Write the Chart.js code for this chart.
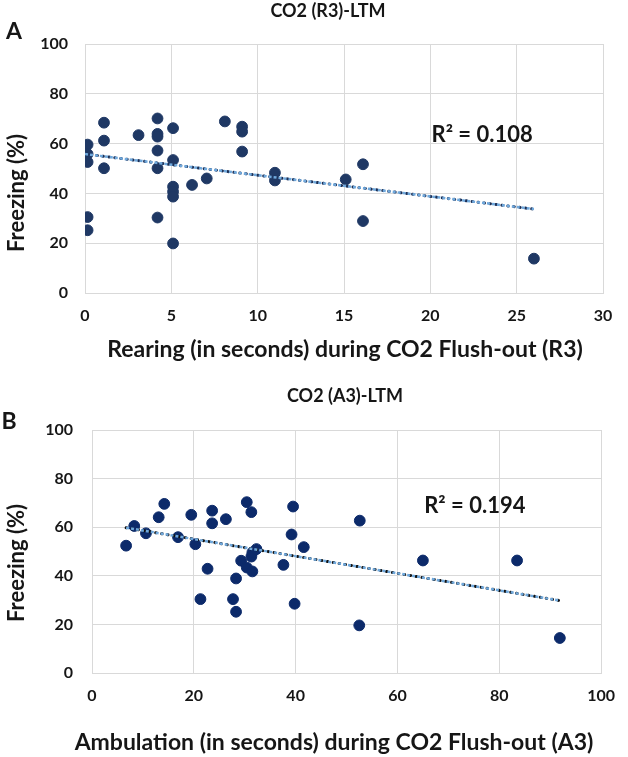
<!DOCTYPE html>
<html>
<head>
<meta charset="utf-8">
<script src="https://cdn.jsdelivr.net/npm/chart.js@4.4.0/dist/chart.umd.min.js"></script>
<style>
    body { margin: 0; background: #fff; }
    #wrap { position: relative; width: 628px; height: 757px; }
    canvas { position: absolute; left: 0; }
</style>
</head>
<body>
<div id="wrap">
    <canvas id="chartA" width="628" height="370" style="top:0"></canvas>
    <canvas id="chartB" width="628" height="387" style="top:370px"></canvas>
</div>
<script>
// Panel A: rearing vs freezing
const rearingSec = [0.15, 0.15, 0.15, 0.15, 0.15, 1.1, 1.1, 1.1, 3.1, 4.2, 4.2, 4.2, 4.2, 4.2, 4.2,
    5.1, 5.1, 5.1, 5.1, 5.1, 5.1, 6.2, 7.05, 8.1, 9.1, 9.1, 9.1, 11.0, 11.0, 15.1, 16.1, 16.1, 26.0];
const freezingR3 = [59.6, 55.8, 52.6, 30.5, 25.2, 68.4, 61.2, 50.1, 63.4, 70.1, 63.9, 62.8, 57.2, 50.1, 30.3,
    66.2, 53.4, 42.7, 40.7, 38.7, 19.9, 43.4, 46.0, 68.9, 66.8, 64.8, 56.8, 48.3, 45.2, 45.6, 51.7, 28.9, 13.8];
const trendR3X = [0, 26];
const trendR3Y = [55.8, 33.7];
const rearTicks = [0, 5, 10, 15, 20, 25, 30];

// Panel B: ambulation vs freezing
const ambulationSec = [6.7, 8.3, 10.6, 13.1, 14.2, 16.9, 19.5, 20.3, 21.3, 22.7, 23.6, 23.6, 26.3, 27.7, 28.3, 28.3,
    29.3, 30.4, 30.4, 31.3, 31.5, 31.3, 31.5, 32.3, 37.6, 39.2, 39.5, 39.8, 41.6, 52.6, 52.5, 65.0, 83.5, 91.9];
const freezingA3 = [52.4, 60.5, 57.5, 64.1, 69.6, 55.9, 65.1, 53.0, 30.4, 42.9, 66.8, 61.6, 63.3, 30.4, 38.9, 25.2,
    46.2, 70.3, 43.4, 66.2, 41.8, 47.9, 49.6, 51.0, 44.5, 57.0, 68.5, 28.5, 51.8, 62.7, 19.6, 46.3, 46.3, 14.4];
const trendA3X = [6.7, 91.9];
const trendA3Y = [59.8, 29.8];
const ambTicks = [0, 20, 40, 60, 80, 100];

const freezeTicks = [0, 20, 40, 60, 80, 100];

const FONT = 'Lato, "Open Sans", sans-serif';
const TEXT = '#161616';
const GRID = '#d9d9d9';

function pairs(xs, ys) {
    return xs.map((x, i) => ({ x: x, y: ys[i] }));
}

// draws titles, panel letter, R² etc. on top of the chart
function textLayer(items) {
    return {
        id: 'textLayer',
        afterDraw(chart) {
            const ctx = chart.ctx;
            items.forEach(t => {
                let x = t.x, y = t.y;
                if (t.dataX !== undefined) {
                    x = chart.scales.x.getPixelForValue(t.dataX);
                    y = chart.scales.y.getPixelForValue(t.dataY);
                }
                ctx.save();
                ctx.translate(x, y);
                if (t.rotate) ctx.rotate(t.rotate);
                ctx.font = t.font;
                ctx.fillStyle = TEXT;
                ctx.textAlign = 'center';
                ctx.textBaseline = 'middle';
                ctx.fillText(t.text, 0, 0);
                ctx.restore();
            });
        }
    };
}

function makeScatter(id, cfg) {
    const ctx = document.getElementById(id).getContext('2d');
    return new Chart(ctx, {
        type: 'scatter',
        data: {
            datasets: [{
                label: 'trend light',
                type: 'line',
                data: pairs(cfg.trendX, cfg.trendY),
                borderColor: '#6fa8dc',
                borderWidth: 2.5,
                borderDash: [3, 2],
                pointRadius: 0,
                fill: false
            }, {
                label: 'trend dots',
                type: 'line',
                data: pairs(cfg.trendX, cfg.trendY),
                borderColor: cfg.trendDot,
                borderWidth: 3,
                borderDash: [0.5, 5.5],
                borderCapStyle: 'round',
                pointRadius: 0,
                fill: false
            }, {
                label: 'Freezing',
                data: pairs(cfg.xs, cfg.ys),
                backgroundColor: cfg.dot,
                borderColor: cfg.dot,
                pointRadius: 5.4,
                pointHoverRadius: 5.4
            }]
        },
        options: {
            responsive: false,
            animation: false,
            layout: { padding: { top: cfg.padTop, right: cfg.padRight, left: 0, bottom: 0 } },
            plugins: {
                legend: { display: false },
                tooltip: { enabled: false }
            },
            scales: {
                x: {
                    type: 'linear',
                    min: cfg.xTicks[0],
                    max: cfg.xTicks[cfg.xTicks.length - 1],
                    afterBuildTicks: s => { s.ticks = cfg.xTicks.map(v => ({ value: v })); },
                    afterFit: s => { s.height = cfg.xHeight; },
                    grid: { color: GRID, drawTicks: false },
                    border: { color: GRID },
                    ticks: { color: TEXT, padding: 13, font: { family: FONT, size: 16, weight: 'bold' } }
                },
                y: {
                    min: 0,
                    max: 100,
                    afterBuildTicks: s => { s.ticks = freezeTicks.map(v => ({ value: v })); },
                    afterFit: s => { s.width = cfg.yWidth; },
                    grid: { color: GRID, drawTicks: false },
                    border: { color: GRID },
                    ticks: { color: TEXT, padding: cfg.yPad, font: { family: FONT, size: 16, weight: 'bold' } }
                }
            }
        },
        plugins: [textLayer(cfg.texts)]
    });
}

window.addEventListener('load', () => {
    makeScatter('chartA', {
        xs: rearingSec, ys: freezingR3, trendX: trendR3X, trendY: trendR3Y, xTicks: rearTicks,
        dot: '#1f3864', trendDot: '#1c2f55', padTop: 44, padRight: 25, xHeight: 77, yWidth: 85, yPad: 17,
        texts: [
            { text: 'CO2 (R3)-LTM', x: 328, y: 11, font: 'bold 18px ' + FONT },
            { text: 'A', x: 14, y: 32, font: 'bold 23px ' + FONT },
            { text: 'Freezing (%)', x: 17, y: 193, rotate: -Math.PI / 2, font: 'bold 22px ' + FONT },
            { text: 'Rearing (in seconds) during CO2 Flush-out (R3)', x: 345, y: 350, font: 'bold 23px ' + FONT },
            { text: 'R\u00b2 = 0.108', dataX: 23, dataY: 63.5, font: 'bold 22px ' + FONT }
        ]
    });
    makeScatter('chartB', {
        xs: ambulationSec, ys: freezingA3, trendX: trendA3X, trendY: trendA3Y, xTicks: ambTicks,
        dot: '#0c2a6a', trendDot: '#111111', padTop: 60, padRight: 16, xHeight: 84, yWidth: 92, yPad: 19,
        texts: [
            { text: 'CO2 (A3)-LTM', x: 345, y: 26, font: 'bold 18px ' + FONT },
            { text: 'B', x: 9, y: 52, font: 'bold 23px ' + FONT },
            { text: 'Freezing (%)', x: 17, y: 193, rotate: -Math.PI / 2, font: 'bold 22px ' + FONT },
            { text: 'Ambulation (in seconds) during CO2 Flush-out (A3)', x: 334, y: 373, font: 'bold 23px ' + FONT },
            { text: 'R\u00b2 = 0.194', dataX: 75.2, dataY: 68.8, font: 'bold 22px ' + FONT }
        ]
    });
});
</script>
</body>
</html>
